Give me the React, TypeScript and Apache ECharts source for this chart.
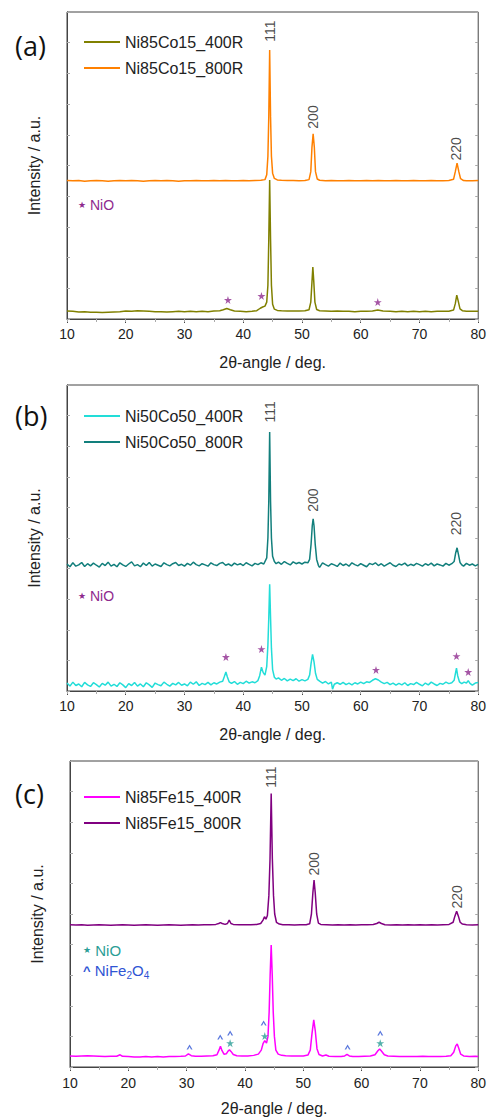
import React, { useEffect, useRef } from 'react';
import * as echarts from 'echarts';

// ---------- data ----------
const SAMPLE_NAMES = [
  ['Ni85Co15_400R', 'Ni85Co15_800R'],
  ['Ni50Co50_400R', 'Ni50Co50_800R'],
  ['Ni85Fe15_400R', 'Ni85Fe15_800R'],
];
const PANEL_LABELS = ['(a)', '(b)', '(c)'];
const HKL = ['111', '200', '220'];

const A400 = [
  [10,2.6],[11,2.5],[12,2.3],[13,2.4],[14,2.2],[15,2.2],[16,2.1],[17,2.2],[18,2.3],[19,2.4],[20,2.6],[21,2.5],[22,2.7],[23,2.6],[24,2.5],[25,2.4],[26,2.4],[27,2.3],[28,2.4],[29,2.5],[30,2.4],[31,2.5],[32,2.4],[33,2.5],[34,2.4],[35,2.6],[36,2.7],[36.6,3.0],[37.2,3.4],[37.8,3.0],[38.5,2.6],[39.5,2.5],[40.5,2.4],[41.5,2.5],[42.3,2.7],[42.9,3.5],[43.3,3.9],[43.7,4.2],[44.0,5.5],[44.2,11],[44.35,26],[44.5,45.3],[44.65,26],[44.8,11],[45.0,4.8],[45.3,3.2],[45.8,2.8],[46.5,2.7],[47.5,2.6],[48.5,2.6],[49.5,2.6],[50.5,2.7],[51.2,3.0],[51.5,5.5],[51.7,12],[51.85,16.9],[52.0,12.5],[52.2,5.5],[52.5,3.1],[53,2.7],[54,2.6],[55,2.5],[56,2.6],[57,2.5],[58,2.5],[59,2.4],[60,2.5],[61,2.5],[62,2.6],[62.9,2.9],[63.8,2.6],[65,2.5],[66,2.4],[67,2.5],[68,2.4],[69,2.5],[70,2.4],[71,2.5],[72,2.4],[73,2.5],[74,2.5],[75,2.5],[75.8,2.9],[76.1,5],[76.35,7.8],[76.6,5.8],[76.9,3.3],[77.3,2.7],[78,2.5],[79,2.5],[80,2.5],
];
const A800 = [
  [10,45.1],[11,45.0],[12,45.1],[13,44.9],[14,45.0],[15,45.1],[16,45.0],[17,44.9],[18,45.0],[19,45.1],[20,45.0],[21,45.1],[22,45.0],[23,44.9],[24,45.0],[25,45.1],[26,45.0],[27,45.1],[28,45.0],[29,44.9],[30,45.0],[31,45.0],[32,45.1],[33,45.0],[34,45.0],[35,45.1],[36,45.0],[37,45.1],[38,45.0],[39,45.0],[40,45.1],[41,45.0],[42,45.1],[43,45.2],[43.7,45.4],[44.0,47],[44.2,53],[44.35,66],[44.5,87.6],[44.65,66],[44.8,53],[45.0,47.5],[45.3,45.8],[45.8,45.3],[46.5,45.2],[47.5,45.1],[48.5,45.1],[49.5,45.0],[50.5,45.1],[51.2,45.4],[51.5,48],[51.7,56],[51.9,60.3],[52.1,56],[52.3,48],[52.6,45.6],[53,45.2],[54,45.0],[55,45.1],[56,45.0],[57,45.0],[58,45.1],[59,45.0],[60,45.0],[61,45.1],[62,45.0],[63,45.1],[64,45.0],[65,45.0],[66,45.1],[67,45.0],[68,45.0],[69,45.1],[70,45.0],[71,45.0],[72,45.1],[73,45.0],[74,45.0],[75,45.1],[75.8,45.5],[76.1,48],[76.4,50.8],[76.7,48],[77.0,45.7],[77.5,45.1],[78,45.0],[79,45.0],[80,45.1],
];
const B400 = [
  [10,2.6],[10.5,1.6],[11,2.9],[11.5,1.8],[12,2.3],[12.5,1.4],[13,2.8],[13.5,2.0],[14,1.5],[14.5,2.7],[15,2.1],[15.5,1.3],[16,2.5],[16.5,1.9],[17,2.9],[17.5,1.6],[18,2.2],[18.5,1.5],[19,2.7],[19.5,2.0],[20,1.1],[20.5,2.4],[21,1.8],[21.5,2.8],[22,1.6],[22.5,2.3],[23,1.4],[23.5,2.7],[24,2.0],[24.5,1.2],[25,2.6],[25.5,2.1],[26,1.7],[26.5,2.9],[27,2.2],[27.5,1.6],[28,2.5],[28.5,2.0],[29,2.8],[29.5,1.9],[30,2.3],[30.5,1.7],[31,2.9],[31.5,2.2],[32,3.0],[32.5,1.8],[33,2.5],[33.5,2.1],[34,2.8],[34.5,2.0],[35,2.7],[35.5,2.3],[36,2.9],[36.5,3.2],[36.8,4.8],[37.05,6.2],[37.3,4.6],[37.6,3.0],[38,2.5],[38.5,3.1],[39,2.2],[39.5,2.8],[40,2.4],[40.5,3.2],[41,2.6],[41.5,3.0],[42,2.7],[42.5,3.4],[42.8,5.0],[43.1,7.8],[43.4,6.0],[43.7,5.2],[44.0,8],[44.2,15],[44.35,24],[44.5,34.9],[44.65,24],[44.8,14],[45.0,7],[45.3,4.5],[45.6,3.9],[46,4.3],[46.5,3.5],[47,4.1],[47.5,3.3],[48,3.9],[48.5,3.4],[49,4.0],[49.5,3.2],[50,3.7],[50.5,3.3],[51,3.8],[51.3,5.2],[51.55,9.0],[51.8,12.0],[52.05,9.5],[52.3,5.8],[52.6,3.8],[53,3.2],[53.5,2.6],[54,3.1],[54.5,2.3],[55,2.9],[55.2,0.6],[55.5,2.2],[56,2.7],[56.5,2.2],[57,2.8],[57.5,2.1],[58,2.6],[58.5,2.0],[59,2.7],[59.5,2.3],[60,2.9],[60.5,2.4],[61,3.0],[61.5,2.8],[62,3.5],[62.5,4.0],[63,3.6],[63.5,2.9],[64,2.4],[64.5,2.8],[65,2.1],[65.5,2.6],[66,1.9],[66.5,2.5],[67,2.0],[67.5,2.7],[68,1.8],[68.5,2.4],[69,2.1],[69.5,2.8],[70,2.2],[70.5,1.7],[71,2.6],[71.5,2.0],[72,2.9],[72.5,2.3],[73,1.8],[73.5,2.5],[74,2.2],[74.5,2.9],[75,2.4],[75.5,2.7],[75.9,3.5],[76.1,5.5],[76.3,7.5],[76.5,5.0],[76.8,3.0],[77.2,2.4],[77.6,2.9],[78,2.6],[78.3,3.4],[78.6,2.5],[79,1.9],[79.5,2.6],[80,2.8],
];
const B800 = [
  [10,41.5],[10.5,40.6],[11,41.9],[11.5,40.8],[12,41.2],[12.5,42.0],[13,40.7],[13.5,41.6],[14,40.9],[14.5,41.8],[15,41.1],[15.5,40.5],[16,41.7],[16.5,41.0],[17,42.1],[17.5,40.8],[18,41.4],[18.5,40.6],[19,41.9],[19.5,41.2],[20,40.7],[20.5,41.5],[21,42.2],[21.5,40.9],[22,41.3],[22.5,40.6],[23,41.8],[23.5,41.0],[24,42.0],[24.5,40.8],[25,41.5],[25.5,41.1],[26,40.7],[26.5,41.9],[27,41.3],[27.5,40.9],[28,41.6],[28.5,42.0],[29,41.0],[29.5,41.4],[30,40.8],[30.5,41.7],[31,41.1],[31.5,42.1],[32,41.3],[32.5,40.9],[33,41.6],[33.5,41.2],[34,40.8],[34.5,41.9],[35,41.3],[35.5,41.0],[36,41.7],[36.5,42.0],[37,41.1],[37.5,41.5],[38,40.9],[38.5,41.8],[39,41.2],[39.5,41.6],[40,41.0],[40.5,41.9],[41,41.4],[41.5,40.9],[42,41.7],[42.5,41.3],[43,41.9],[43.5,41.5],[44.0,43.5],[44.2,50],[44.35,62],[44.5,84.6],[44.65,62],[44.8,50],[45.0,44],[45.3,42.3],[45.6,41.6],[46,42.1],[46.5,41.4],[47,42.3],[47.5,41.7],[48,41.2],[48.5,42.2],[49,41.6],[49.5,42.0],[50,41.5],[50.5,42.1],[51,41.9],[51.3,43],[51.55,48],[51.75,54],[51.9,56.3],[52.05,54],[52.25,48],[52.5,43],[52.8,41.0],[53,40.4],[53.5,41.9],[54,41.3],[54.5,40.8],[55,41.6],[55.5,41.2],[56,40.7],[56.5,41.8],[57,41.0],[57.5,41.5],[58,40.8],[58.5,41.9],[59,41.3],[59.5,40.9],[60,41.6],[60.5,41.1],[61,40.6],[61.5,41.7],[62,41.3],[62.5,41.9],[63,41.0],[63.5,41.6],[64,40.8],[64.5,41.4],[65,41.9],[65.5,41.1],[66,40.7],[66.5,41.5],[67,41.2],[67.5,41.8],[68,40.9],[68.5,41.4],[69,41.0],[69.5,41.7],[70,41.3],[70.5,40.8],[71,41.6],[71.5,41.1],[72,41.8],[72.5,40.9],[73,41.5],[73.5,41.2],[74,40.8],[74.5,41.7],[75,41.1],[75.5,41.6],[75.9,42.3],[76.15,45],[76.4,46.8],[76.65,44.5],[76.9,42.0],[77.2,41.2],[77.5,40.8],[78,41.7],[78.5,41.1],[79,41.5],[79.5,40.9],[80,41.4],
];
const C400 = [
  [10,3.6],[11,3.5],[12,3.6],[13,3.7],[14,3.6],[15,3.5],[16,3.4],[17,3.5],[18,3.5],[18.6,4.0],[19.0,3.5],[20,3.4],[21,3.3],[22,3.3],[23,3.4],[24,3.3],[25,3.4],[26,3.3],[27,3.4],[28,3.4],[29,3.5],[29.8,3.6],[30.3,4.3],[30.8,3.7],[31.5,3.5],[32.5,3.5],[33.5,3.6],[34.5,3.7],[35.2,4.0],[35.55,5.5],[35.8,6.8],[36.05,5.4],[36.4,4.2],[36.8,4.3],[37.1,5.2],[37.35,5.6],[37.6,5.1],[38.0,4.1],[38.6,3.7],[39.5,3.6],[40.5,3.6],[41.5,3.8],[42.3,4.2],[42.8,5.5],[43.1,7.6],[43.4,8.6],[43.7,7.8],[43.95,10],[44.15,18],[44.32,30],[44.5,39.9],[44.68,30],[44.85,18],[45.05,10],[45.3,5.5],[45.7,4.2],[46.3,3.8],[47,3.7],[48,3.6],[49,3.6],[50,3.6],[50.8,3.9],[51.2,5.5],[51.5,11],[51.8,15.4],[52.05,12],[52.35,6],[52.7,4.1],[53.3,3.6],[53.9,3.9],[54.4,3.5],[55.5,3.4],[56.5,3.4],[57.1,3.6],[57.5,4.1],[57.9,3.6],[58.5,3.4],[59.5,3.4],[60.5,3.5],[61.5,3.6],[62.3,4.0],[62.8,5.3],[63.1,5.9],[63.4,5.2],[63.9,4.0],[64.5,3.6],[65.5,3.5],[66.5,3.4],[67.5,3.4],[68.5,3.4],[69.5,3.4],[70.5,3.5],[71.5,3.4],[72.5,3.4],[73.5,3.4],[74.5,3.5],[75.3,3.7],[75.8,4.8],[76.15,6.9],[76.4,7.5],[76.65,6.2],[77.0,4.2],[77.5,3.6],[78.5,3.4],[79.5,3.5],[80,3.4],
];
const C800 = [
  [10,46.5],[11,46.4],[12,46.5],[13,46.3],[14,46.4],[15,46.5],[16,46.4],[17,46.3],[18,46.4],[19,46.5],[20,46.4],[21,46.3],[22,46.4],[23,46.5],[24,46.4],[25,46.3],[26,46.4],[27,46.5],[28,46.4],[29,46.3],[30,46.4],[31,46.5],[32,46.4],[33,46.5],[34,46.5],[35,46.6],[35.5,46.9],[35.8,47.2],[36.1,46.9],[36.6,46.6],[37.0,46.9],[37.3,48.0],[37.6,46.9],[38,46.6],[39,46.5],[40,46.5],[41,46.5],[42,46.6],[42.7,46.9],[43.1,48.0],[43.35,49.1],[43.6,48.3],[43.85,49.5],[44.1,56],[44.3,68],[44.5,89.4],[44.7,68],[44.9,56],[45.1,50],[45.4,47.3],[45.9,46.7],[46.5,46.5],[47.5,46.5],[48.5,46.4],[49.5,46.5],[50.5,46.5],[51.1,46.8],[51.4,50],[51.65,57],[51.85,61.1],[52.05,57],[52.3,50],[52.6,47.0],[53,46.6],[54,46.5],[55,46.4],[56,46.5],[57,46.4],[58,46.5],[59,46.4],[60,46.5],[61,46.5],[62,46.6],[62.6,46.9],[63.0,47.3],[63.4,46.9],[64,46.5],[65,46.4],[66,46.5],[67,46.4],[68,46.5],[69,46.4],[70,46.5],[71,46.4],[72,46.5],[73,46.4],[74,46.5],[75,46.6],[75.7,47.3],[76.0,49.3],[76.3,50.9],[76.6,49.3],[76.9,47.3],[77.3,46.7],[78,46.5],[79,46.4],[80,46.5],
];

// hkl label anchor points [2theta, intensity]
const HKL_A = [[44.55, 93.8], [51.8, 65.8], [76.3, 55.4]];
const HKL_B = [[44.5, 91.2], [51.8, 62.4], [76.3, 54.7]];
const HKL_C = [[44.46, 94.7], [51.8, 66.4], [76.4, 55.6]];

// phase markers [2theta, intensity]
const NIO_A = [[37.4, 6.2], [43.1, 7.5], [62.9, 5.5]];
const NIO_B = [[37.05, 11.1], [43.1, 13.7], [62.6, 6.9], [76.3, 11.4], [78.3, 6.2]];
const NIO_C = [[37.46, 7.8], [43.4, 10.1], [63.2, 7.8]];
const NIFE2O4_C = [[30.5, 6.5], [35.76, 9.8], [37.46, 11.1], [43.2, 14.4], [57.6, 6.5], [63.2, 11.1]];

// ---------- styles ----------
const FONT = '"Liberation Sans", Arial, sans-serif';
const COLORS = [
  ['#808000', '#FF8000'],
  ['#22DDD8', '#127F7C'],
  ['#FF00FF', '#800080'],
];
const STAR = 'path://M50,0 L61.2,34.5 L97.6,34.5 L68.2,55.9 L79.4,90.5 L50,69.1 L20.6,90.5 L31.8,55.9 L2.4,34.5 L38.8,34.5 Z';
const CARET = 'path://M0,8 L5,0 L10,8 L7.4,8 L5,3.6 L2.6,8 Z';
const GRIDS = [
  { left: 67, top: 12, width: 414, height: 307 },
  { left: 67, top: 385, width: 414, height: 306 },
  { left: 70, top: 761, width: 413, height: 306 },
];
const LABEL_MARGIN = [8, 8, 9];
const NAME_GAP = [35, 35, 33];
const LEGEND_TOP = [34, 408, 789];
const PANEL_Y = [45, 415, 793];
const NOTE_Y = [205, 596];

export default function App() {
  const ref = useRef<HTMLDivElement>(null);
  useEffect(() => {
    if (!ref.current) return;
    const chart = echarts.init(ref.current, undefined, { renderer: 'svg' });
    const curves = [[A400, A800], [B400, B800], [C400, C800]];
    const hkls = [HKL_A, HKL_B, HKL_C];

    const xAxis: any[] = [];
    const yAxis: any[] = [];
    const series: any[] = [];
    const legend: any[] = [];

    GRIDS.forEach((g, i) => {
      xAxis.push({
        gridIndex: i, type: 'value', min: 10, max: 80, interval: 10, position: 'bottom',
        axisLine: { show: true, lineStyle: { color: '#444', width: 1 } },
        axisTick: { show: true, length: 4, lineStyle: { color: '#444' } },
        minorTick: { show: true, splitNumber: 2, length: 3, lineStyle: { color: '#444' } },
        splitLine: { show: false },
        axisLabel: { fontSize: 14, color: '#222', fontFamily: FONT, margin: LABEL_MARGIN[i] },
        name: '2θ-angle / deg.', nameLocation: 'middle', nameGap: NAME_GAP[i],
        nameTextStyle: { fontSize: 16, color: '#222', fontFamily: FONT },
      });
      yAxis.push({
        gridIndex: i, type: 'value', min: 0, max: 100, interval: 10, position: 'left',
        axisLine: { show: true, lineStyle: { color: '#444', width: 1 } },
        axisTick: { show: true, inside: true, length: 3, lineStyle: { color: '#aaa' } },
        axisLabel: { show: false }, splitLine: { show: false },
        name: 'Intensity / a.u.', nameLocation: 'middle', nameGap: 25,
        nameTextStyle: { fontSize: 16, color: '#222', fontFamily: FONT },
      });
    });
    GRIDS.forEach((g, i) => {
      xAxis.push({
        gridIndex: i, type: 'value', min: 10, max: 80, interval: 5, position: 'top',
        axisLine: { show: false }, axisLabel: { show: false }, splitLine: { show: false },
        axisTick: { show: true, inside: true, length: 3, lineStyle: { color: '#aaa' } },
      });
      yAxis.push({
        gridIndex: i, type: 'value', min: 0, max: 100, interval: 10, position: 'right',
        axisLine: { show: false }, axisLabel: { show: false }, splitLine: { show: false },
        axisTick: { show: true, inside: true, length: 3, lineStyle: { color: '#aaa' } },
      });
    });

    GRIDS.forEach((g, i) => {
      [0, 1].forEach((k) => {
        series.push({
          type: 'line', name: SAMPLE_NAMES[i][k], xAxisIndex: i, yAxisIndex: i,
          data: curves[i][k], showSymbol: false, symbol: 'none',
          lineStyle: { color: COLORS[i][k], width: 1.5 }, itemStyle: { color: COLORS[i][k] },
          z: 2,
        });
      });
      series.push({
        type: 'scatter', xAxisIndex: i, yAxisIndex: i, symbolSize: 1,
        itemStyle: { color: 'rgba(0,0,0,0)' }, silent: true, z: 5,
        data: hkls[i].map((p, j) => ({ value: p, name: HKL[j] })),
        label: {
          show: true, position: 'inside', rotate: 90, formatter: '{b}',
          fontSize: 14, color: '#1a1a1a', fontFamily: FONT,
        },
      });
      legend.push({
        data: SAMPLE_NAMES[i].map((n) => ({ name: n, icon: 'rect' })),
        orient: 'vertical', left: 84, top: LEGEND_TOP[i],
        padding: 0, itemWidth: 36, itemHeight: 2, itemGap: 10,
        textStyle: { fontSize: 16, color: '#222', fontFamily: FONT, lineHeight: 14, height: 14 },
        selectedMode: false,
      });
    });
    series.push({
      type: 'scatter', xAxisIndex: 0, yAxisIndex: 0, data: NIO_A, symbol: STAR, symbolSize: 8,
      itemStyle: { color: '#8E2A8E' }, z: 6,
    });
    series.push({
      type: 'scatter', xAxisIndex: 1, yAxisIndex: 1, data: NIO_B, symbol: STAR, symbolSize: 8,
      itemStyle: { color: '#8E2A8E' }, z: 6,
    });
    series.push({
      type: 'scatter', xAxisIndex: 2, yAxisIndex: 2, data: NIO_C, symbol: STAR, symbolSize: 8,
      itemStyle: { color: '#2A9D96' }, z: 6,
    });
    series.push({
      type: 'scatter', xAxisIndex: 2, yAxisIndex: 2, data: NIFE2O4_C, symbol: CARET, symbolSize: [6, 5],
      itemStyle: { color: '#2F55D4' }, z: 6,
    });

    const graphic: any[] = [];
    PANEL_LABELS.forEach((t, i) => {
      graphic.push({
        type: 'text', x: 15, y: PANEL_Y[i],
        style: { text: t, fontSize: 27, fontFamily: '"Open Sans", "Noto Sans", sans-serif', fill: '#111', align: 'left', verticalAlign: 'middle' },
      });
    });
    NOTE_Y.forEach((y) => {
      graphic.push({
        type: 'text', x: 78, y,
        style: {
          text: '{s|★}{t| NiO}', align: 'left', verticalAlign: 'middle',
          rich: {
            s: { fontSize: 9, fill: '#8E2A8E', fontFamily: '"DejaVu Sans", sans-serif' },
            t: { fontSize: 14, fill: '#8E2A8E', fontFamily: FONT },
          },
        },
      });
    });
    graphic.push({
      type: 'text', x: 83, y: 950,
      style: {
        text: '{s|★}{t| NiO}', align: 'left', verticalAlign: 'middle',
        rich: {
          s: { fontSize: 9, fill: '#2A9D96', fontFamily: '"DejaVu Sans", sans-serif' },
          t: { fontSize: 15, fill: '#2A9D96', fontFamily: FONT },
        },
      },
    });
    graphic.push({
      type: 'text', x: 83, y: 970,
      style: {
        text: '{c|^}{n| NiFe}{b|2}{n|O}{b|4}', align: 'left', verticalAlign: 'middle',
        rich: {
          c: { fontSize: 13, fill: '#2F55D4', fontFamily: FONT, lineHeight: 20, fontWeight: 'bold' },
          n: { fontSize: 15, fill: '#2F55D4', fontFamily: FONT, lineHeight: 20 },
          b: { fontSize: 10, fill: '#2F55D4', fontFamily: FONT, lineHeight: 8, verticalAlign: 'bottom' },
        },
      },
    });

    chart.setOption({
      animation: false,
      backgroundColor: '#fff',
      grid: GRIDS.map((g) => ({ ...g, show: true, borderColor: '#444', borderWidth: 1, backgroundColor: 'transparent' })),
      xAxis, yAxis, series, legend, graphic,
    });
    return () => chart.dispose();
  }, []);
  return <div ref={ref} style={{ position: 'fixed', left: 0, top: 0, width: 489, height: 1117 }} />;
}
